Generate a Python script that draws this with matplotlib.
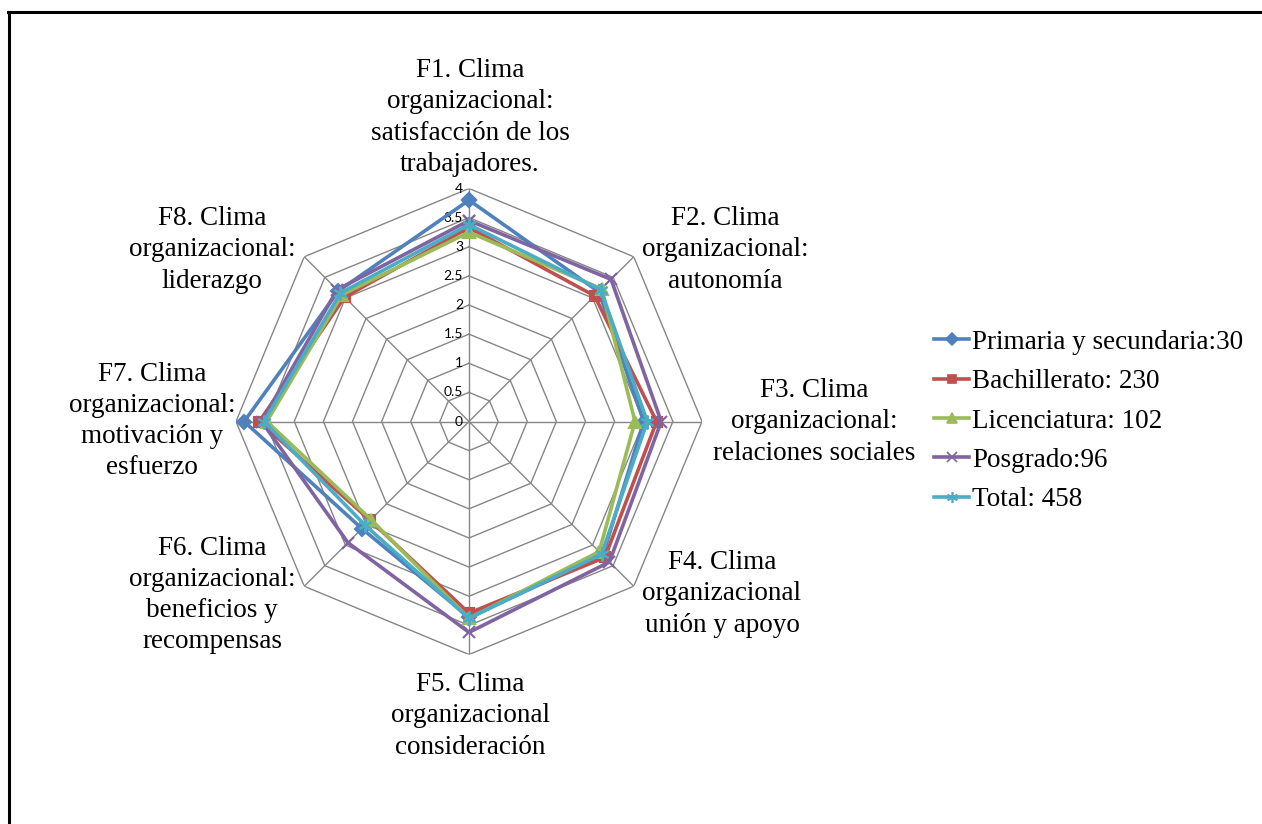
import numpy as np
import matplotlib
matplotlib.use("Agg")
import matplotlib.pyplot as plt
from matplotlib.lines import Line2D
import matplotlib.transforms as mtransforms

# Factor labels (clockwise from the top)
categories = [
    "F1. Clima\norganizacional:\nsatisfacción de los\ntrabajadores.",
    "F2. Clima\norganizacional:\nautonomía",
    "F3. Clima\norganizacional:\nrelaciones sociales",
    "F4. Clima\norganizacional\nunión y apoyo",
    "F5. Clima\norganizacional\nconsideración",
    "F6. Clima\norganizacional:\nbeneficios y\nrecompensas",
    "F7. Clima\norganizacional:\nmotivación y\nesfuerzo",
    "F8. Clima\norganizacional:\nliderazgo",
]

series_names = [
    "Primaria y secundaria:30",
    "Bachillerato: 230",
    "Licenciatura: 102",
    "Posgrado:96",
    "Total: 458",
]

primaria = [3.80, 3.15, 3.00, 3.25, 3.36, 2.60, 3.86, 3.17]
bachillerato = [3.33, 3.05, 3.22, 3.30, 3.29, 2.40, 3.60, 3.02]
licenciatura = [3.25, 3.22, 2.85, 3.16, 3.38, 2.38, 3.47, 3.08]
posgrado = [3.45, 3.45, 3.30, 3.41, 3.62, 2.94, 3.56, 3.20]
total = [3.38, 3.20, 3.06, 3.22, 3.38, 2.52, 3.52, 3.12]

tick_values = [0, 0.5, 1, 1.5, 2, 2.5, 3, 3.5, 4]
tick_labels = ["0", "0.5", "1", "1.5", "2", "2.5", "3", "3.5", "4"]

colors = ["#4F81BD", "#C0504D", "#9BBB59", "#8064A2", "#4BACC6"]
markers = ["D", "s", "^", "x", (6, 2, 0)]
msizes = [7.5, 7.5, 8.5, 9, 10]

W, H = 1262, 824
fig = plt.figure(figsize=(W / 100, H / 100), dpi=100)
fig.patch.set_facecolor("white")

# Radar area: centre (469, 421.5) px, outer radius 233 px
cx, cy, R = 469, 421.5, 233
ax = fig.add_axes([(cx - R) / W, (H - cy - R) / H, 2 * R / W, 2 * R / H],
                  projection="polar")
ax.set_theta_zero_location("N")
ax.set_theta_direction(-1)
ax.set_ylim(0, 4)
ax.grid(False)
ax.spines["polar"].set_visible(False)
ax.set_xticks([])
ax.set_yticks([])
ax.patch.set_alpha(0)

n = len(categories)
theta = np.linspace(0, 2 * np.pi, n, endpoint=False)
theta_closed = np.append(theta, theta[0])

grid_color = "#868686"
# Octagonal grid rings
for v in tick_values[1:]:
    ax.plot(theta_closed, [v] * (n + 1), color=grid_color, lw=1.0, zorder=1)
# Spokes
for t in theta:
    ax.plot([t, t], [0, 4], color=grid_color, lw=1.0, zorder=1)

# Radial value labels along the top spoke
offset = mtransforms.offset_copy(ax.transData, fig=fig, x=-6, y=0, units="dots")
for v, lab in zip(tick_values, tick_labels):
    ax.text(0, v, lab, transform=offset, ha="right", va="center",
            fontsize=10, family="Lato", color="black")

all_series = [primaria, bachillerato, licenciatura, posgrado, total]
for vals, name, c, m, ms in zip(all_series, series_names, colors, markers, msizes):
    v = np.append(vals, vals[0])
    ax.plot(theta_closed, v, color=c, lw=2.6, marker=m, markersize=ms,
            markeredgecolor=c, markerfacecolor=c, markeredgewidth=1.5,
            label=name, zorder=3, clip_on=False)

# Category labels
label_pos = [(470, 117.5), (725, 250), (814, 422), (722, 594),
             (470, 716), (212, 595), (152, 421), (212, 250)]
for lab, (x, y) in zip(categories, label_pos):
    fig.text(x / W, 1 - y / H, lab, ha="center", va="center",
             fontsize=19.5, family="Liberation Serif", linespacing=1.32)

# Legend
handles = [Line2D([], [], color=c, lw=2.6, marker=m, markersize=ms * 0.8,
                  markeredgecolor=c, markerfacecolor=c, markeredgewidth=1.2)
           for c, m, ms in zip(colors, markers, msizes)]
fig.legend(handles, series_names, loc="center left",
           bbox_to_anchor=(934 / W, 1 - 421 / H), frameon=False,
           prop={"family": "Liberation Serif", "size": 19.5},
           handlelength=1.3, handletextpad=0.12, labelspacing=0.53,
           borderpad=0, borderaxespad=0)

# Outer frame (top and left edges)
fig.add_artist(Line2D([9 / W, 9 / W], [0, 1 - 12 / H], color="black", lw=2.2,
                      transform=fig.transFigure))
fig.add_artist(Line2D([8 / W, 1], [1 - 12 / H, 1 - 12 / H], color="black", lw=2.2,
                      transform=fig.transFigure))

fig.savefig("out.png", dpi=100, facecolor="white")
